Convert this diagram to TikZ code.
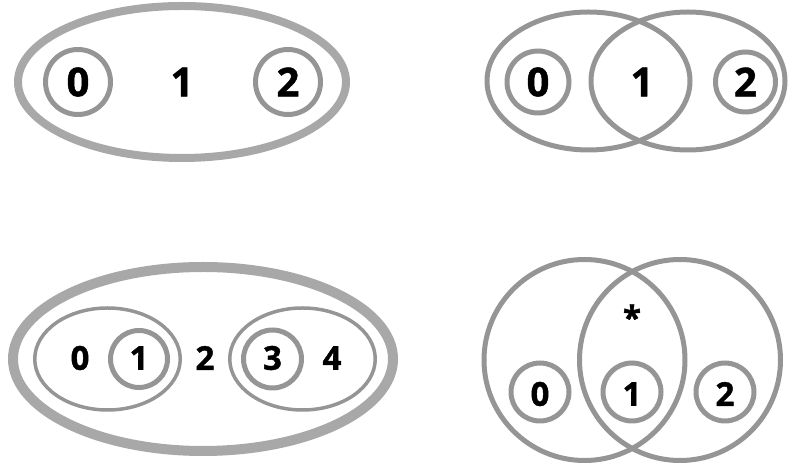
\documentclass[tikz,border=0pt]{standalone}
\usepackage{fontspec}
\newfontfamily\digitfont{Open Sans Bold}[FakeBold=1.2]
\definecolor{ringgray}{HTML}{959595}
\definecolor{outergray}{HTML}{A8A8A8}
\tikzset{
  ring/.style={draw=ringgray, line width=5pt},
  thinring/.style={draw=ringgray, line width=3.5pt},
  bigring/.style={draw=outergray, line width=8pt},
  hugering/.style={draw=outergray, line width=10pt},
  bigdigit/.style={font=\digitfont\fontsize{40}{42}\selectfont, inner sep=0pt, anchor=center},
  smalldigit/.style={font=\digitfont\fontsize{33}{35}\selectfont, inner sep=0pt, anchor=center},
}
\begin{document}
\begin{tikzpicture}[x=1pt,y=1pt]
\useasboundingbox (0,0) rectangle (788,468);
% Panel 1
\draw[bigring] (182,386) ellipse [x radius=164, y radius=76];
\draw[ring] (78,386) circle [radius=32.5];
\draw[ring] (288,386) circle [radius=32.5];
\node[bigdigit] (p1a) at (78,386) {0};
\node[bigdigit] (p1b) at (182,386) {1};
\node[bigdigit] (p1c) at (288,386) {2};
% Panel 2
\draw[ring] (588.5,387) ellipse [x radius=101.5, y radius=69];
\draw[ring] (688,387) ellipse [x radius=97, y radius=69];
\draw[ring] (538,386) circle [radius=31];
\draw[ring] (745.5,386) circle [radius=30];
\node[bigdigit] (p2a) at (538,386) {0};
\node[bigdigit] (p2b) at (642,386) {1};
\node[bigdigit] (p2c) at (745.5,386) {2};
% Panel 3
\draw[hugering] (203,109) ellipse [x radius=190, y radius=92];
\draw[thinring] (107.5,109) ellipse [x radius=72.75, y radius=51];
\draw[thinring] (302.5,109) ellipse [x radius=72.75, y radius=51];
\draw[ring] (139,109) circle [radius=28.5];
\draw[ring] (272.5,109) circle [radius=29];
\node[smalldigit] (p3a) at (80,110) {0};
\node[smalldigit] (p3b) at (139,110) {1};
\node[smalldigit] (p3c) at (205,110) {2};
\node[smalldigit] (p3d) at (272.5,110) {3};
\node[smalldigit] (p3e) at (332,110) {4};
% Panel 4
\draw[ring] (584.5,108) circle [radius=100.5];
\draw[ring] (680,108) circle [radius=100.5];
\draw[ring] (540,76) circle [radius=29];
\draw[ring] (632,76) circle [radius=29];
\draw[ring] (725,76) circle [radius=29];
\node[smalldigit] (p4a) at (540,74) {0};
\node[smalldigit] (p4b) at (632,74) {1};
\node[smalldigit] (p4c) at (725,74) {2};
\node[smalldigit] (p4s) at (632,151) {*};
\end{tikzpicture}
\end{document}
